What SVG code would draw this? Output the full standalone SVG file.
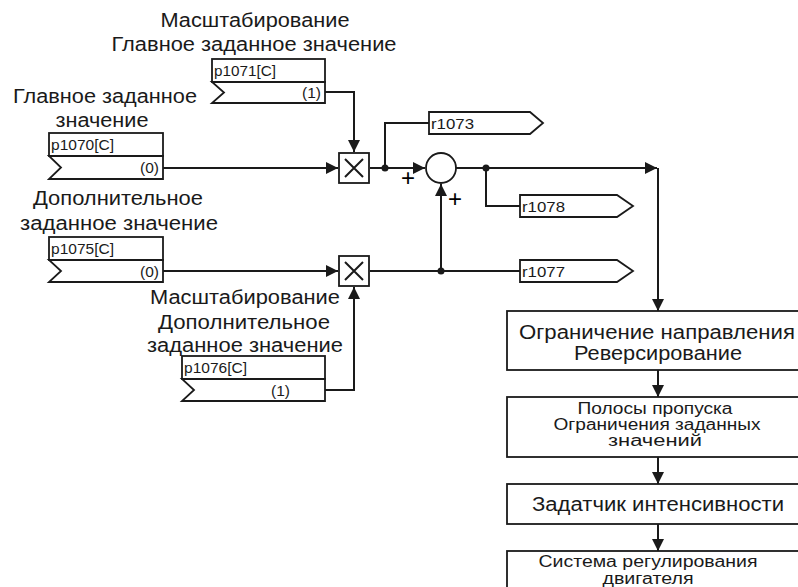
<svg xmlns="http://www.w3.org/2000/svg" width="798" height="587" viewBox="0 0 798 587">
<defs>
<style>
.bx{fill:#fff;stroke:#1a1a1a;stroke-width:1.8}
.ln{fill:none;stroke:#1a1a1a;stroke-width:2}
.lbl{font-family:"Liberation Sans",Arial,sans-serif;font-size:20px;fill:#1a1a1a;text-anchor:middle}
.sm{font-family:"Liberation Sans",Arial,sans-serif;font-size:15.5px;fill:#1a1a1a}
.mid{font-family:"Liberation Sans",Arial,sans-serif;font-size:16px;fill:#1a1a1a;text-anchor:middle}
.dot{fill:#1a1a1a}
.pl{font-family:"Liberation Sans",Arial,sans-serif;font-size:24px;fill:#000;text-anchor:middle}
</style>
<marker id="ah" viewBox="0 0 12 12" refX="12" refY="6" markerWidth="12" markerHeight="12" markerUnits="userSpaceOnUse" orient="auto">
<path d="M0,0 L12,6 L0,12 Z" fill="#1a1a1a"/>
</marker>
</defs>
<rect width="798" height="587" fill="#fff"/>

<g id="labels">
<text class="lbl" x="255" y="27" textLength="189" lengthAdjust="spacingAndGlyphs">Масштабирование</text>
<text class="lbl" x="254" y="51" textLength="285" lengthAdjust="spacingAndGlyphs">Главное заданное значение</text>
<text class="lbl" x="105" y="103" textLength="184" lengthAdjust="spacingAndGlyphs">Главное заданное</text>
<text class="lbl" x="102" y="127" textLength="93" lengthAdjust="spacingAndGlyphs">значение</text>
<text class="lbl" x="118" y="205" textLength="170" lengthAdjust="spacingAndGlyphs">Дополнительное</text>
<text class="lbl" x="119" y="230" textLength="198" lengthAdjust="spacingAndGlyphs">заданное значение</text>
<text class="lbl" x="245" y="304" textLength="190" lengthAdjust="spacingAndGlyphs">Масштабирование</text>
<text class="lbl" x="244" y="329" textLength="172" lengthAdjust="spacingAndGlyphs">Дополнительное</text>
<text class="lbl" x="245" y="352" textLength="196" lengthAdjust="spacingAndGlyphs">заданное значение</text>
</g>

<g id="p1071">
<rect class="bx" x="212" y="59" width="113" height="23"/>
<path class="bx" d="M212,82 H325 V103 H212 L224,92.5 Z"/>
<text class="sm" x="214" y="76" textLength="62" lengthAdjust="spacingAndGlyphs">p1071[C]</text>
<text class="sm" x="321" y="97.5" text-anchor="end">(1)</text>
</g>

<g id="p1070">
<rect class="bx" x="49" y="133" width="114" height="23"/>
<path class="bx" d="M49,156 H163 V179 H49 L61,167.5 Z"/>
<text class="sm" x="51" y="150" textLength="63" lengthAdjust="spacingAndGlyphs">p1070[C]</text>
<text class="sm" x="159" y="173" text-anchor="end">(0)</text>
</g>

<g id="p1075">
<rect class="bx" x="49" y="237" width="114" height="23"/>
<path class="bx" d="M49,260 H163 V282 H49 L61,271 Z"/>
<text class="sm" x="51" y="254" textLength="63" lengthAdjust="spacingAndGlyphs">p1075[C]</text>
<text class="sm" x="159" y="276.5" text-anchor="end">(0)</text>
</g>

<g id="p1076">
<rect class="bx" x="182" y="356" width="143" height="23"/>
<path class="bx" d="M182,379 H325 V401 H182 L194,390 Z"/>
<text class="sm" x="184" y="373" textLength="63" lengthAdjust="spacingAndGlyphs">p1076[C]</text>
<text class="sm" x="290" y="395.5" text-anchor="end">(1)</text>
</g>

<g id="connectors">
<path class="ln" d="M163,168 H338" marker-end="url(#ah)"/>
<path class="ln" d="M325,92 H354 V152" marker-end="url(#ah)"/>
<path class="ln" d="M370,168 H425" marker-end="url(#ah)"/>
<path class="ln" d="M385,168 V123 H429"/>
<path class="ln" d="M456,168 H657" marker-end="url(#ah)"/>
<path class="ln" d="M486,168 V206 H520"/>
<path class="ln" d="M163,271 H338" marker-end="url(#ah)"/>
<path class="ln" d="M325,390 H354 V287" marker-end="url(#ah)"/>
<path class="ln" d="M370,271 H520"/>
<path class="ln" d="M441,271 V184" marker-end="url(#ah)"/>
<path class="ln" d="M658,168 V311" marker-end="url(#ah)"/>
<path class="ln" d="M658,370 V397" marker-end="url(#ah)"/>
<path class="ln" d="M658,457 V484" marker-end="url(#ah)"/>
<path class="ln" d="M658,524 V551" marker-end="url(#ah)"/>
<circle class="dot" cx="385" cy="168" r="3.5"/>
<circle class="dot" cx="486" cy="168" r="3.5"/>
<circle class="dot" cx="441" cy="271" r="3.5"/>
<text class="pl" x="408" y="186">+</text>
<text class="pl" x="455" y="207">+</text>
</g>

<g id="mul1">
<rect class="bx" x="339" y="153" width="30" height="30"/>
<path class="ln" d="M345,159 L363,177 M363,159 L345,177" stroke-width="1.6"/>
</g>
<g id="mul2">
<rect class="bx" x="339" y="256" width="30" height="30"/>
<path class="ln" d="M345,262 L363,280 M363,262 L345,280" stroke-width="1.6"/>
</g>
<g id="sum">
<circle class="bx" cx="441" cy="168" r="15"/>
</g>

<g id="r1073">
<path class="bx" d="M429,112 H530 L543,123 L530,134 H429 Z"/>
<text class="sm" x="431" y="128.5" textLength="43" lengthAdjust="spacingAndGlyphs">r1073</text>
</g>
<g id="r1078">
<path class="bx" d="M520,195 H617 L633,206 L617,217 H520 Z"/>
<text class="sm" x="522" y="211.5" textLength="43" lengthAdjust="spacingAndGlyphs">r1078</text>
</g>
<g id="r1077">
<path class="bx" d="M520,260 H617 L633,271 L617,282 H520 Z"/>
<text class="sm" x="522" y="276.5" textLength="43" lengthAdjust="spacingAndGlyphs">r1077</text>
</g>

<g id="b1">
<rect class="bx" x="507" y="311" width="300" height="59"/>
<text class="lbl" x="657" y="339" textLength="276" lengthAdjust="spacingAndGlyphs">Ограничение направления</text>
<text class="lbl" x="658" y="360" textLength="168" lengthAdjust="spacingAndGlyphs">Реверсирование</text>
</g>
<g id="b2">
<rect class="bx" x="507" y="397" width="300" height="60"/>
<text class="mid" x="655" y="414" textLength="155" lengthAdjust="spacingAndGlyphs">Полосы пропуска</text>
<text class="mid" x="657" y="430" textLength="207" lengthAdjust="spacingAndGlyphs">Ограничения заданных</text>
<text class="mid" x="655" y="446" textLength="94" lengthAdjust="spacingAndGlyphs">значений</text>
</g>
<g id="b3">
<rect class="bx" x="507" y="484" width="300" height="40"/>
<text class="lbl" x="658" y="511" textLength="252" lengthAdjust="spacingAndGlyphs">Задатчик интенсивности</text>
</g>
<g id="b4">
<rect class="bx" x="507" y="551" width="300" height="60"/>
<text class="mid" x="648" y="567" textLength="219" lengthAdjust="spacingAndGlyphs">Система регулирования</text>
<text class="mid" x="648" y="584" textLength="91" lengthAdjust="spacingAndGlyphs">двигателя</text>
</g>
</svg>
